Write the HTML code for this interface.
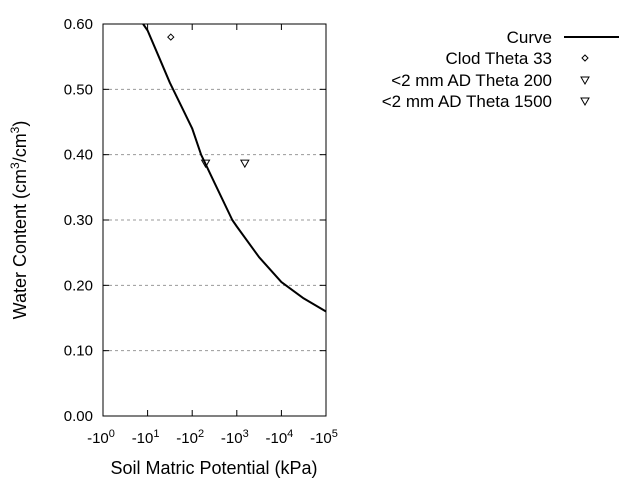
<!DOCTYPE html>
<html><head><meta charset="utf-8"><style>
body{margin:0;background:#fff;}
svg{display:block;font-family:"Liberation Sans",Arial,sans-serif;}
</style></head><body>
<svg id="chart" width="640" height="480" viewBox="0 0 640 480">
<g id="grid"></g>
<rect x="103" y="24" width="223" height="392" fill="none" stroke="#000" stroke-width="1"/>
<g id="ticks"></g>
<g id="series"></g>
<text x="214" y="474" font-size="18" text-anchor="middle">Soil Matric Potential (kPa)</text>
<text transform="translate(26,220) rotate(-90)" font-size="18" text-anchor="middle">Water Content (cm<tspan dy="-7" font-size="12">3</tspan><tspan dy="7">/cm</tspan><tspan dy="-7" font-size="12">3</tspan><tspan dy="7">)</tspan></text>
<g font-size="17" text-anchor="end">
<text x="552" y="43">Curve</text>
<line x1="564" y1="37" x2="619" y2="37" stroke="#000" stroke-width="2"/>
<text x="552" y="64">Clod Theta 33</text>
<path d="M585,55 L588,58 L585,61 L582,58 Z" fill="none" stroke="#000"/>
<text x="552" y="86">&lt;2 mm AD Theta 200</text>
<path d="M581,77 L589,77 L585,84 Z" fill="none" stroke="#000"/>
<text x="552" y="107">&lt;2 mm AD Theta 1500</text>
<path d="M581,98 L589,98 L585,105 Z" fill="none" stroke="#000"/>
</g>
</svg>
<script>
const yTicks=[0,0.1,0.2,0.3,0.4,0.5,0.6];
const xDecades=[0,1,2,3,4,5];
const curveLog=[0.9,1,1.25,1.5,1.75,2,2.2,2.5,2.9,3,3.5,4,4.5,5];
const curveTheta=[0.60,0.59,0.55,0.51,0.475,0.44,0.40,0.357,0.30,0.29,0.243,0.205,0.18,0.16];
const clodLog=[1.52], clodTheta=[0.58];
const t200Log=[2.3], t200Theta=[0.387];
const t1500Log=[3.18], t1500Theta=[0.387];
const X=l=>103+l*44.6, Y=v=>416-v/0.6*392;
const NS="http://www.w3.org/2000/svg";
function mk(tag,attrs,parent){const e=document.createElementNS(NS,tag);for(const k in attrs)e.setAttribute(k,attrs[k]);parent.appendChild(e);return e;}
const grid=document.getElementById('grid'),ticks=document.getElementById('ticks'),series=document.getElementById('series');
yTicks.forEach(v=>{
 if(v>0&&v<0.6){const g=mk('line',{x1:103,x2:326,y1:Y(v),y2:Y(v),stroke:'#999','stroke-dasharray':'3,3'},grid);
 
 }
 const t=mk('line',{x1:103,x2:109,y1:Y(v),y2:Y(v),stroke:'#000'},ticks);
 
 
 const t2=mk('line',{x1:320,x2:326,y1:Y(v),y2:Y(v),stroke:'#000'},ticks);
 
 
 const lb=mk('text',{x:93,y:Y(v)+5,'font-size':15,'text-anchor':'end'},ticks);
 lb.textContent=v.toFixed(2);
 
 
});
xDecades.forEach(d=>{
 const t=mk('line',{x1:X(d),x2:X(d),y1:410,y2:416,stroke:'#000'},ticks);
 
 
 const t2=mk('line',{x1:X(d),x2:X(d),y1:24,y2:30,stroke:'#000'},ticks);
 
 
 const lb=mk('text',{x:X(d)-2,y:443,'font-size':15,'text-anchor':'middle'},ticks);
 lb.innerHTML='-10<tspan dy="-6" font-size="11">'+d+'</tspan>';
 
 
});
const pts=curveLog.map((l,i)=>X(l).toFixed(1)+','+Y(curveTheta[i]).toFixed(1)).join(' ');
const c=mk('polyline',{points:pts,fill:'none',stroke:'#000','stroke-width':2,'stroke-linejoin':'round'},series);


clodLog.forEach((l,i)=>{const x=X(l),y=Y(clodTheta[i]);
 const m=mk('path',{d:`M${x},${y-3} L${x+3},${y} L${x},${y+3} L${x-3},${y} Z`,fill:'none',stroke:'#000'},series);
 
 });
function tri(ls,vs,name){ls.forEach((l,i)=>{const x=X(l),y=Y(vs[i]);
 const m=mk('path',{d:`M${x-4},${y-3} L${x+4},${y-3} L${x},${y+4} Z`,fill:'none',stroke:'#000'},series);
 
 });}
tri(t200Log,t200Theta,'theta200-point');
tri(t1500Log,t1500Theta,'theta1500-point');
</script>
</body></html>
